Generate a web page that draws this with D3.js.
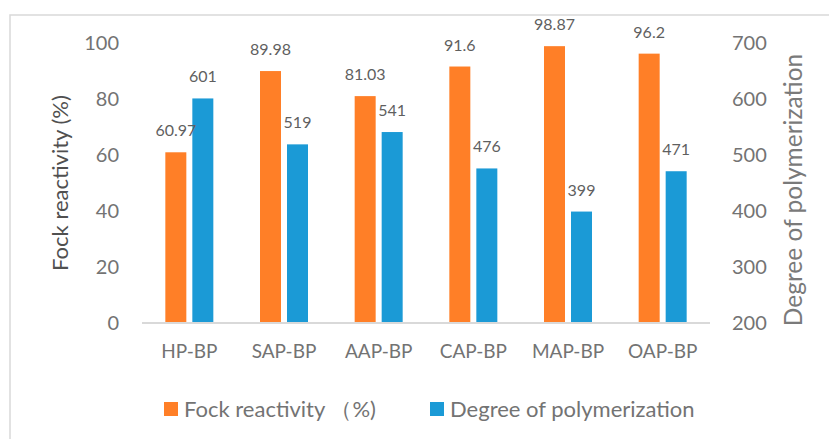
<!DOCTYPE html>
<html>
<head>
<meta charset="utf-8">
<script src="https://cdn.jsdelivr.net/npm/d3@7/dist/d3.min.js"></script>
<style>
  html, body { margin: 0; padding: 0; background: #fff; }
  svg { display: block; font-family: Lato, "Open Sans", sans-serif; }
</style>
</head>
<body>
<svg id="chart" width="829" height="439"></svg>
<script>
// Samples and measured values
const categories = ["HP-BP", "SAP-BP", "AAP-BP", "CAP-BP", "MAP-BP", "OAP-BP"];
const fockReactivity = [60.97, 89.98, 81.03, 91.6, 98.87, 96.2];
const polymerization = [601, 519, 541, 476, 399, 471];
const leftTicks = [0, 20, 40, 60, 80, 100];
const rightTicks = [200, 300, 400, 500, 600, 700];
const seriesNames = ["Fock reactivity （%)", "Degree of polymerization"];

const orange = "#FF7F27";
const blue = "#1B9AD6";
const textGray = "#737373";

const svg = d3.select("#chart");

// outer frame of the chart area
svg.append("rect")
  .attr("x", 10).attr("y", 15)
  .attr("width", 840).attr("height", 450)
  .attr("fill", "none").attr("stroke", "#d9d9d9").attr("stroke-width", 1.5);

const plot = { left: 142, right: 710, top: 43, bottom: 323 };

const x = d3.scaleBand().domain(categories).range([plot.left, plot.right]);
const yL = d3.scaleLinear().domain([0, 100]).range([plot.bottom, plot.top]);
const yR = d3.scaleLinear().domain([200, 700]).range([plot.bottom, plot.top]);

const barW = 21, gap = 6;
const xOrange = c => x(c) + x.bandwidth() / 2 - gap / 2 - barW;
const xBlue = c => x(c) + x.bandwidth() / 2 + gap / 2;

// bars
const g = svg.append("g");
g.selectAll("rect.fock").data(categories).join("rect")
  .attr("class", "fock")
  .attr("x", c => xOrange(c))
  .attr("y", (c, i) => yL(fockReactivity[i]))
  .attr("width", barW)
  .attr("height", (c, i) => plot.bottom - yL(fockReactivity[i]))
  .attr("fill", orange);

g.selectAll("rect.dp").data(categories).join("rect")
  .attr("class", "dp")
  .attr("x", c => xBlue(c))
  .attr("y", (c, i) => yR(polymerization[i]))
  .attr("width", barW)
  .attr("height", (c, i) => plot.bottom - yR(polymerization[i]))
  .attr("fill", blue);

// value labels
g.selectAll("text.fockLbl").data(categories).join("text")
  .attr("x", c => xOrange(c) + barW / 2)
  .attr("y", (c, i) => yL(fockReactivity[i]) - 16)
  .attr("text-anchor", "middle")
  .attr("font-size", 16).attr("fill", "#5f5f5f")
  .text((c, i) => fockReactivity[i]);

g.selectAll("text.dpLbl").data(categories).join("text")
  .attr("x", c => xBlue(c) + barW / 2)
  .attr("y", (c, i) => yR(polymerization[i]) - 16)
  .attr("text-anchor", "middle")
  .attr("font-size", 16).attr("fill", "#5f5f5f")
  .text((c, i) => polymerization[i]);

// baseline
svg.append("line")
  .attr("x1", plot.left).attr("x2", plot.right)
  .attr("y1", plot.bottom).attr("y2", plot.bottom)
  .attr("stroke", "#d9d9d9").attr("stroke-width", 2);

// left axis labels
const axL = svg.append("g").attr("transform", `translate(${plot.left},0)`)
  .call(d3.axisLeft(yL).tickValues(leftTicks).tickSize(0).tickPadding(23));
axL.select(".domain").remove();
axL.selectAll("text").attr("font-size", 20).attr("fill", textGray)
  .attr("font-family", "Lato, sans-serif");

// right axis labels
const axR = svg.append("g").attr("transform", `translate(${plot.right},0)`)
  .call(d3.axisRight(yR).tickValues(rightTicks).tickSize(0).tickPadding(22));
axR.select(".domain").remove();
axR.selectAll("text").attr("font-size", 20).attr("fill", textGray)
  .attr("font-family", "Lato, sans-serif");

// category axis labels
const axB = svg.append("g").attr("transform", `translate(0,${plot.bottom})`)
  .call(d3.axisBottom(x).tickSize(0).tickPadding(22));
axB.select(".domain").remove();
axB.selectAll("text").attr("font-size", 19).attr("fill", textGray)
  .attr("font-family", "Lato, sans-serif");

// axis titles
svg.append("text")
  .attr("transform", "translate(68,183) rotate(-90)")
  .attr("text-anchor", "middle")
  .attr("font-size", 22).attr("fill", "#505050")
  .text("Fock reactivity (%)");

svg.append("text")
  .attr("transform", "translate(802,190) rotate(-90)")
  .attr("text-anchor", "middle")
  .attr("font-size", 24.5).attr("fill", "#7a7a7a")
  .text("Degree of polymerization");

// legend
const legend = svg.append("g");
const legendItems = [
  { name: seriesNames[0], color: orange, x: 164 },
  { name: seriesNames[1], color: blue, x: 430 }
];
legendItems.forEach(d => {
  legend.append("rect").attr("x", d.x).attr("y", 402)
    .attr("width", 14).attr("height", 14).attr("fill", d.color);
  legend.append("text").attr("x", d.x + 20).attr("y", 417)
    .attr("font-size", 22).attr("fill", textGray)
    .text(d.name);
});
</script>
</body>
</html>
